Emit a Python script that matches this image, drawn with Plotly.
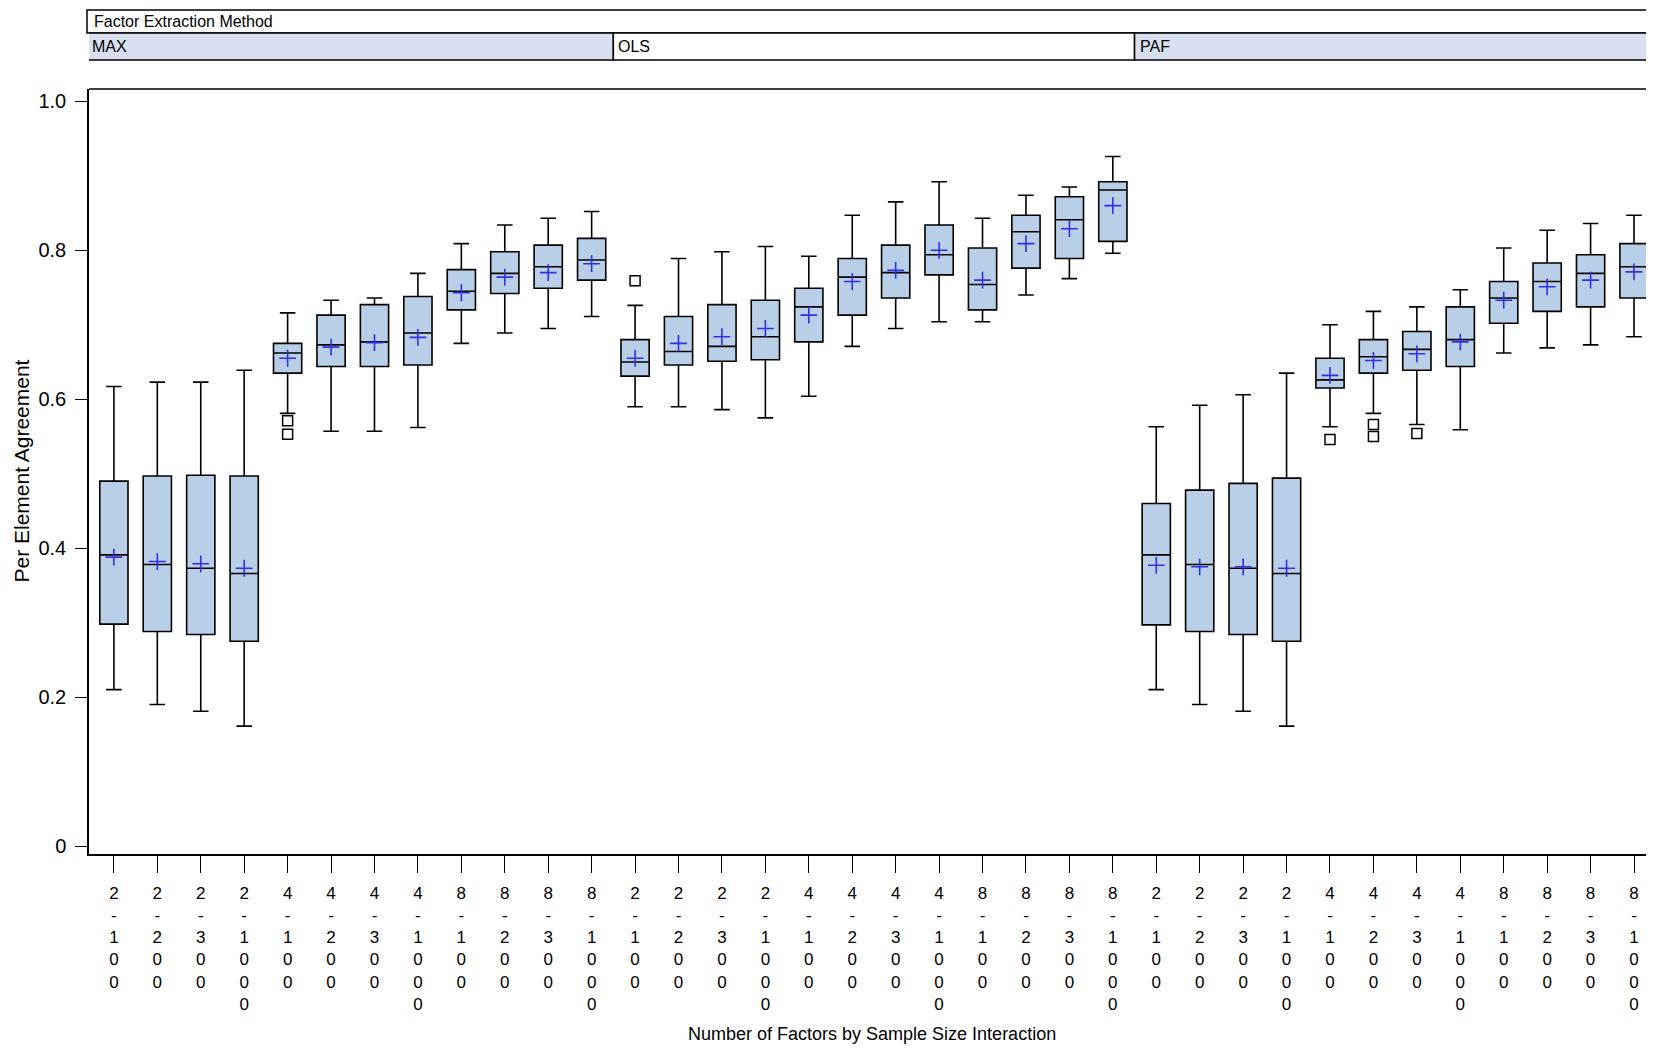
import plotly.graph_objects as go

methods = ['MAX', 'OLS', 'PAF']
factor_by_n = ['2-100', '2-200', '2-300', '2-1000',
               '4-100', '4-200', '4-300', '4-1000',
               '8-100', '8-200', '8-300', '8-1000']

max_upper = [0.617, 0.623, 0.623, 0.639, 0.716, 0.733, 0.736, 0.769, 0.809, 0.834, 0.843, 0.852]
max_q3 = [0.490, 0.497, 0.498, 0.497, 0.675, 0.713, 0.727, 0.738, 0.774, 0.798, 0.807, 0.816]
max_median = [0.391, 0.378, 0.373, 0.366, 0.662, 0.673, 0.677, 0.689, 0.745, 0.769, 0.778, 0.787]
max_mean = [0.388, 0.382, 0.379, 0.373, 0.655, 0.670, 0.676, 0.683, 0.743, 0.764, 0.770, 0.782]
max_q1 = [0.298, 0.288, 0.284, 0.275, 0.635, 0.644, 0.644, 0.646, 0.720, 0.742, 0.749, 0.760]
max_lower = [0.210, 0.190, 0.181, 0.161, 0.581, 0.557, 0.557, 0.562, 0.675, 0.689, 0.695, 0.711]

ols_upper = [0.726, 0.789, 0.798, 0.805, 0.792, 0.847, 0.865, 0.892, 0.843, 0.874, 0.885, 0.926]
ols_q3 = [0.680, 0.711, 0.727, 0.733, 0.749, 0.789, 0.807, 0.834, 0.803, 0.847, 0.872, 0.892]
ols_median = [0.650, 0.664, 0.671, 0.684, 0.724, 0.764, 0.770, 0.794, 0.754, 0.825, 0.841, 0.881]
ols_mean = [0.655, 0.675, 0.684, 0.695, 0.713, 0.758, 0.773, 0.800, 0.760, 0.809, 0.829, 0.860]
ols_q1 = [0.631, 0.646, 0.651, 0.653, 0.677, 0.713, 0.736, 0.767, 0.720, 0.776, 0.789, 0.812]
ols_lower = [0.590, 0.590, 0.586, 0.575, 0.604, 0.671, 0.695, 0.704, 0.704, 0.740, 0.762, 0.796]

paf_upper = [0.563, 0.592, 0.606, 0.635, 0.700, 0.718, 0.724, 0.747, 0.803, 0.827, 0.836, 0.847]
paf_q3 = [0.460, 0.478, 0.487, 0.494, 0.655, 0.680, 0.691, 0.724, 0.758, 0.783, 0.794, 0.809]
paf_median = [0.391, 0.378, 0.373, 0.366, 0.626, 0.657, 0.667, 0.680, 0.736, 0.758, 0.769, 0.778]
paf_mean = [0.377, 0.375, 0.375, 0.373, 0.632, 0.652, 0.661, 0.677, 0.733, 0.751, 0.760, 0.771]
paf_q1 = [0.297, 0.288, 0.284, 0.275, 0.615, 0.635, 0.639, 0.644, 0.702, 0.718, 0.724, 0.736]
paf_lower = [0.210, 0.190, 0.181, 0.161, 0.563, 0.581, 0.566, 0.559, 0.662, 0.669, 0.673, 0.684]

# outliers: (method, factor-by-n, value)
outlier_method = ['MAX', 'MAX', 'OLS', 'PAF', 'PAF', 'PAF', 'PAF']
outlier_cat = ['4-100', '4-100', '2-100', '4-100', '4-200', '4-200', '4-300']
outlier_value = [0.571, 0.553, 0.759, 0.546, 0.566, 0.550, 0.554]

y_ticks = [0, 0.2, 0.4, 0.6, 0.8, 1.0]
y_ticktext = ['0', '0.2', '0.4', '0.6', '0.8', '1.0']

BOX_FILL = '#b9cfe7'
HEADER_FILL = '#d8dfee'
MEAN_COLOR = '#3030e8'
SANS = 'Liberation Sans, Arial, sans-serif'

# page body adds an 8px offset, so the figure is sized to the remaining window
OFF = 8
W, H = 1654 - OFF, 1049 - OFF
M_L, M_R, M_T, M_B = 89 - OFF, 0, 89 - OFF, 195
X_LO, X_HI = -0.573, 35.46

n_cat = len(factor_by_n)
upper = max_upper + ols_upper + paf_upper
q3 = max_q3 + ols_q3 + paf_q3
median = max_median + ols_median + paf_median
mean = max_mean + ols_mean + paf_mean
q1 = max_q1 + ols_q1 + paf_q1
lower = max_lower + ols_lower + paf_lower
pos = list(range(len(methods) * n_cat))
ticktext = ['<br>'.join(list(c)) for c in factor_by_n] * len(methods)

out_x = [methods.index(m) * n_cat + factor_by_n.index(c) for m, c in zip(outlier_method, outlier_cat)]

fig = go.Figure()

fig.add_trace(go.Box(
    x=pos, q1=q1, median=median, q3=q3,
    lowerfence=lower, upperfence=upper,
    width=0.65, whiskerwidth=0.55,
    fillcolor=BOX_FILL,
    line=dict(color='black', width=1.6),
    boxpoints=False,
    showlegend=False,
    hoverinfo='skip'
))

fig.add_trace(go.Scatter(
    x=pos, y=mean, mode='markers',
    marker=dict(symbol='cross-thin', size=12, line=dict(color=MEAN_COLOR, width=1.6)),
    showlegend=False, hoverinfo='skip'
))

fig.add_trace(go.Scatter(
    x=out_x, y=outlier_value, mode='markers',
    marker=dict(symbol='square-open', size=10, color='black', line=dict(color='black', width=1.5)),
    showlegend=False, hoverinfo='skip'
))

plot_h = H - M_T - M_B
plot_w = W - M_L - M_R


def py(px):
    # screen row -> paper y
    return (H - M_B - (px - OFF)) / plot_h


def pxx(px):
    # screen column -> paper x
    return (px - OFF - M_L) / plot_w


shapes = [
    dict(type='line', xref='paper', yref='paper', x0=0, x1=1.02, y0=1, y1=1,
         line=dict(color='black', width=1.5)),
    dict(type='rect', xref='paper', yref='paper', x0=pxx(87), x1=1.02, y0=py(33), y1=py(10),
         line=dict(color='black', width=1.5), fillcolor='white', layer='above'),
]
annotations = [
    dict(text='Factor Extraction Method', xref='paper', yref='paper', x=pxx(92), y=py(21.5),
         xanchor='left', yanchor='middle', showarrow=False,
         font=dict(family=SANS, size=16, color='black')),
    dict(text='Number of Factors by Sample Size Interaction', xref='paper', yref='paper',
         x=0.5, y=py(1034), xanchor='center', yanchor='middle', showarrow=False,
         font=dict(family=SANS, size=18, color='black')),
    dict(text='Per Element Agreement', xref='paper', yref='paper', textangle=-90,
         x=pxx(21), y=0.5, xanchor='center', yanchor='middle', showarrow=False,
         font=dict(family=SANS, size=21, color='black')),
]
for i, m in enumerate(methods):
    x0 = i * n_cat - 0.5 if i > 0 else X_LO - 0.04
    x1 = (i + 1) * n_cat - 0.5 if i < len(methods) - 1 else 36.5
    fill = HEADER_FILL if i % 2 == 0 else 'white'
    shapes.append(dict(
        type='rect', xref='x', yref='paper',
        x0=x0, x1=x1, y0=py(60), y1=py(33), fillcolor=fill,
        line=dict(color='black', width=1.5), layer='above'))
    annotations.append(dict(
        text=m, xref='x', yref='paper',
        x=x0 + 0.07, y=py(47),
        xanchor='left', yanchor='middle', showarrow=False,
        font=dict(family=SANS, size=16, color='black')))

fig.update_layout(
    width=W, height=H,
    margin=dict(l=M_L, r=M_R, t=M_T, b=M_B, autoexpand=False),
    paper_bgcolor='white', plot_bgcolor='white',
    shapes=shapes, annotations=annotations,
    xaxis=dict(
        range=[X_LO, X_HI], automargin=False,
        tickmode='array', tickvals=pos, ticktext=ticktext,
        ticks='outside', ticklen=17, tickwidth=1.3, tickcolor='black',
        ticklabelstandoff=6,
        tickfont=dict(family=SANS, size=17, color='black'),
        showline=True, linecolor='black', linewidth=1.5,
        showgrid=False, zeroline=False,
    ),
    yaxis=dict(
        range=[-0.0107, 1.0166], automargin=False,
        tickmode='array', tickvals=y_ticks, ticktext=y_ticktext,
        ticks='outside', ticklen=12, tickwidth=1.3, tickcolor='black',
        ticklabelstandoff=5,
        tickfont=dict(family=SANS, size=20, color='black'),
        showline=True, linecolor='black', linewidth=1.5,
        showgrid=False, zeroline=False,
    ),
)

fig.write_html('out.html')
